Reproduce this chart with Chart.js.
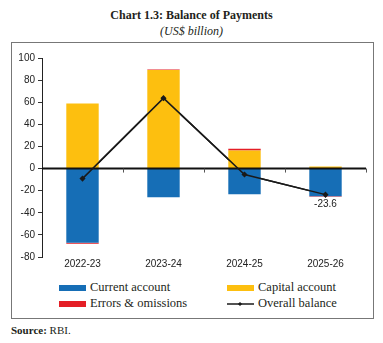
<!DOCTYPE html>
<html>
<head>
<meta charset="utf-8">
<script src="https://cdn.jsdelivr.net/npm/chart.js@4.4.1/dist/chart.umd.min.js"></script>
<style>
body { margin: 0; width: 383px; height: 343px; background: #fff; position: relative; overflow: hidden; font-family: "Liberation Serif", serif; color: #231f20; }
#title { position: absolute; top: 8px; left: 0; width: 383px; text-align: center; font-weight: bold; font-size: 12px; }
#subtitle { position: absolute; top: 24px; left: 0; width: 383px; text-align: center; font-style: italic; font-size: 12px; }
#frame { position: absolute; left: 11px; top: 42px; width: 361px; height: 275px; border: 1px solid #777; }
#wrap { position: absolute; left: 0; top: 41px; width: 383px; height: 230px; }
#legend { position: absolute; left: 0; top: 280px; width: 383px; font-size: 12.5px; }
.item { position: absolute; display: flex; align-items: center; white-space: nowrap; }
.sw { width: 27px; height: 6px; margin-right: 4px; }
#source { position: absolute; left: 11px; top: 324px; font-size: 11px; }
</style>
</head>
<body>
<div id="title">Chart 1.3: Balance of Payments</div>
<div id="subtitle">(US$ billion)</div>
<div id="frame"></div>
<div id="wrap"><canvas id="bop"></canvas></div>
<div id="legend"></div>
<div id="source"><b>Source:</b> RBI.</div>
<script>
const years = ["2022-23", "2023-24", "2024-25", "2025-26"];
const currentAccount = [-67.1, -26.0, -23.3, -25.0];
const capitalAccount = [58.9, 89.2, 16.4, 1.8];
const errorsOmissions = [-0.9, 0.5, 1.5, -0.4];
const overallBalance = [-9.1, 63.7, -5.4, -23.6];
const yTicks = [-80, -60, -40, -20, 0, 20, 40, 60, 80, 100];

const blue = "#166eb6", yellow = "#fdbf0f", red = "#e41e26";

// zero line, x ticks on it, and the last point label
const extras = {
  id: "extras",
  afterDatasetsDraw(chart) {
    const ctx = chart.ctx, x = chart.scales.x, y = chart.scales.y;
    const area = chart.chartArea;
    const y0 = y.getPixelForValue(0);
    ctx.save();
    ctx.strokeStyle = "#111";
    ctx.lineWidth = 2;
    ctx.beginPath();
    ctx.moveTo(area.left, y0);
    ctx.lineTo(area.right, y0);
    ctx.stroke();
    ctx.lineWidth = 1;
    ctx.strokeStyle = "#555";
    ctx.beginPath();
    for (let i = 1; i <= years.length; i++) {
      const px = Math.round(area.left + (area.right - area.left) * i / years.length) + 0.5;
      ctx.moveTo(px, y0);
      ctx.lineTo(px, y0 + 4);
    }
    ctx.stroke();
    ctx.restore();
    // redraw line on top of zero line
    chart.getDatasetMeta(3).controller.draw();
    const meta = chart.getDatasetMeta(3);
    const last = meta.data[meta.data.length - 1];
    ctx.save();
    ctx.fillStyle = "#222";
    ctx.font = "10px 'Liberation Sans', sans-serif";
    ctx.textAlign = "center";
    ctx.textBaseline = "top";
    ctx.fillText(overallBalance[overallBalance.length - 1].toFixed(1), last.x, last.y + 5);
    ctx.restore();
  }
};

const chart = new Chart(document.getElementById("bop"), {
  data: {
    labels: years,
    datasets: [
      { type: "bar", label: "Current account", data: currentAccount, backgroundColor: blue, stack: "bop", barPercentage: 0.8, categoryPercentage: 0.5 },
      { type: "bar", label: "Capital account", data: capitalAccount, backgroundColor: yellow, stack: "bop", barPercentage: 0.8, categoryPercentage: 0.5 },
      { type: "bar", label: "Errors & omissions", data: errorsOmissions, backgroundColor: red, stack: "bop", barPercentage: 0.8, categoryPercentage: 0.5 },
      { type: "line", label: "Overall balance", data: overallBalance, borderColor: "#1a1a1a", backgroundColor: "#1a1a1a", borderWidth: 1.5, pointRadius: 2, pointStyle: "rectRot", stack: "line" }
    ]
  },
  options: {
    responsive: true,
    maintainAspectRatio: false,
    animation: false,
    layout: { padding: { left: 12, right: 17, top: 17, bottom: 0 } },
    plugins: { legend: { display: false }, tooltip: { enabled: false } },
    scales: {
      x: {
        stacked: true,
        grid: { display: false, drawTicks: false },
        border: { display: false },
        ticks: { color: "#222", font: { family: "Liberation Sans", size: 10 }, padding: 1 }
      },
      y: {
        stacked: true,
        min: -80, max: 100,
        afterBuildTicks(s) { s.ticks = yTicks.map(v => ({ value: v })); },
        afterFit(s) { s.width = 30; },
        grid: { drawOnChartArea: false, drawTicks: true, tickLength: 4, color: "#333" },
        border: { display: true, color: "#222", width: 1 },
        ticks: { color: "#222", font: { family: "Liberation Sans", size: 10 }, padding: 3 }
      }
    }
  },
  plugins: [extras]
});

// legend
const legendItems = [
  { label: "Current account", color: blue, left: 59, top: 0 },
  { label: "Capital account", color: yellow, left: 227, top: 0 },
  { label: "Errors & omissions", color: red, left: 59, top: 16 },
  { label: "Overall balance", line: true, left: 227, top: 16 }
];
const lg = document.getElementById("legend");
legendItems.forEach(it => {
  const d = document.createElement("div");
  d.className = "item";
  d.style.left = it.left + "px";
  d.style.top = it.top + "px";
  const sw = it.line
    ? '<svg width="27" height="8" style="margin-right:4px"><line x1="0" y1="4" x2="27" y2="4" stroke="#1a1a1a" stroke-width="1.5"/><rect x="11.5" y="2.5" width="3" height="3" fill="#1a1a1a" transform="rotate(45 13 4)"/></svg>'
    : '<span class="sw" style="background:' + it.color + '"></span>';
  d.innerHTML = sw + "<span>" + it.label + "</span>";
  lg.appendChild(d);
});
</script>
</body>
</html>
